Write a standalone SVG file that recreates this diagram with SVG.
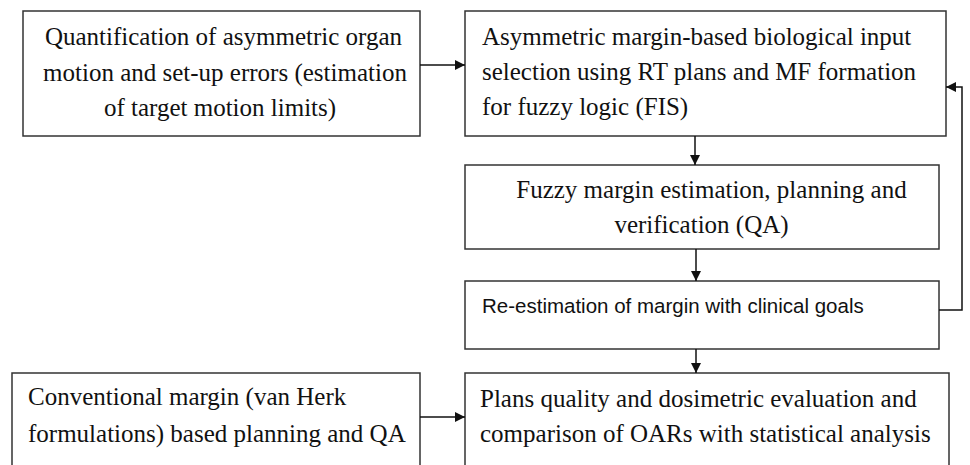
<svg xmlns="http://www.w3.org/2000/svg" width="970" height="465" viewBox="0 0 970 465">
<style>
.box{fill:#fff;stroke:#333;stroke-width:1.5}
.t{font-family:"Liberation Serif","Times New Roman",Times,serif;font-size:25px;fill:#111}
.s{font-family:"Liberation Sans",Arial,sans-serif;font-size:20.5px;fill:#111}
.c{text-anchor:middle}
.ln{stroke:#111;stroke-width:1.5;fill:none}
</style>
<defs>
<marker id="ah" viewBox="0 0 10 10" refX="10" refY="5" markerWidth="10" markerHeight="10" markerUnits="userSpaceOnUse" orient="auto">
<path d="M0,0 L10,5 L0,10 Z" fill="#111"/>
</marker>
</defs>
<rect width="970" height="465" fill="#fff"/>
<g id="n1">
<rect class="box" x="23" y="11" width="397" height="125"/>
<text class="t c" x="223.5" y="45">Quantification of asymmetric organ</text>
<text class="t c" x="225" y="81">motion and set-up errors (estimation</text>
<text class="t c" x="220" y="116">of target motion limits)</text>
</g>
<g id="n2">
<rect class="box" x="465" y="11" width="481" height="125"/>
<text class="t" x="482" y="45">Asymmetric margin-based biological input</text>
<text class="t" x="482" y="80">selection using RT plans and MF formation</text>
<text class="t" x="482" y="115">for fuzzy logic (FIS)</text>
</g>
<g id="n3">
<rect class="box" x="465" y="165" width="474" height="84"/>
<text class="t c" x="711.5" y="198">Fuzzy margin estimation, planning and</text>
<text class="t c" x="701.5" y="233">verification (QA)</text>
</g>
<g id="n4">
<rect class="box" x="465" y="281" width="474" height="68"/>
<text class="s" x="482" y="313">Re-estimation of margin with clinical goals</text>
</g>
<g id="n5">
<rect class="box" x="465" y="373" width="484" height="100"/>
<text class="t" x="480" y="407">Plans quality and dosimetric evaluation and</text>
<text class="t" x="480" y="442">comparison of OARs with statistical analysis</text>
</g>
<g id="n6">
<rect class="box" x="12" y="373" width="408" height="100"/>
<text class="t" x="28" y="405">Conventional margin (van Herk</text>
<text class="t" x="28" y="442">formulations) based planning and QA</text>
</g>
<g id="edges">
<line class="ln" x1="420" y1="65" x2="465" y2="65" marker-end="url(#ah)"/>
<line class="ln" x1="695" y1="136" x2="695" y2="165" marker-end="url(#ah)"/>
<line class="ln" x1="696" y1="249" x2="696" y2="281" marker-end="url(#ah)"/>
<line class="ln" x1="696" y1="349" x2="696" y2="373" marker-end="url(#ah)"/>
<polyline class="ln" points="939,310 962,310 962,87 946,87" marker-end="url(#ah)"/>
<line class="ln" x1="420" y1="417" x2="465" y2="417" marker-end="url(#ah)"/>
</g>
</svg>
